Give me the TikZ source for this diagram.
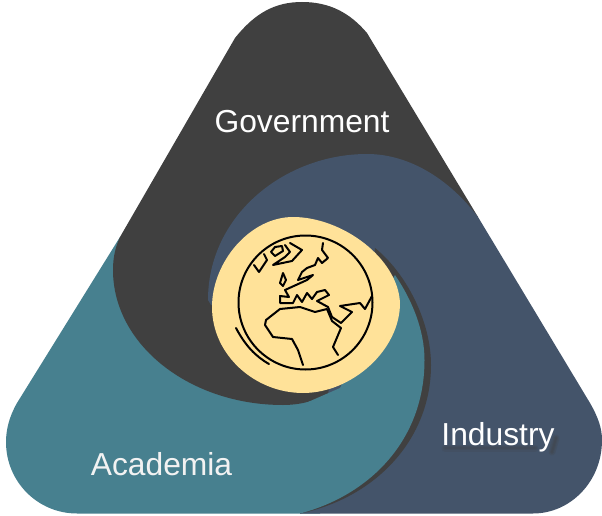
\documentclass[tikz,border=0pt]{standalone}
\usepackage{fontspec}
\setmainfont{Liberation Sans}
\definecolor{govgray}{HTML}{404040}
\definecolor{indblue}{HTML}{44546A}
\definecolor{acateal}{HTML}{47808F}
\definecolor{globeyellow}{HTML}{FFE299}
\tikzset{
	sector label/.style={font=\fontsize{31.8}{36}\selectfont, anchor=base, text=white, inner sep=0pt},
	globe line/.style={draw=black, line width=2pt, line join=round, line cap=round},
}
\begin{document}
\begin{tikzpicture}[x=1pt, y=-1pt]
	\useasboundingbox (0,0) rectangle (602,516);
	% Paths, swirls and globe:
	\fill[acateal] (120,237) -- (17,403) .. controls (9,417) and (6,430) .. (6,442) .. controls (6,482) and (38,513.5) .. (77,513.5) -- (320,513.5) -- (340,380) -- (300,250) -- cycle;
	\fill[govgray] (120,237) -- (235,38) .. controls (255,13) and (275,2) .. (302,2) .. controls (330,2) and (350,13) .. (367,33) -- (478,217) -- (345,385) .. controls (325,398) and (305,405) .. (283,405) .. controls (190,405) and (113,345) .. (113,270) .. controls (113,258) and (115,248) .. (120,237) -- cycle;
	\fill[indblue] (208,300) .. controls (208,215) and (285,154) .. (367,154) .. controls (410,154) and (450,180) .. (478,217) -- (590,403) .. controls (598,417) and (602,428) .. (602,440) .. controls (602,482) and (570,513.5) .. (533,513.5) -- (300,513.5) -- (330,385) -- (270,310) -- (211,305) -- cycle;
	\fill[govgray] (375,248) .. controls (405,272) and (431,320) .. (431,365) .. controls (431,440) and (375,498) .. (300,513.5) -- (340,388) -- (370,300) -- cycle;
	\fill[acateal] (395,275) .. controls (412,300) and (424.5,330) .. (424.5,360) .. controls (424.5,440) and (370,495) .. (300,513.5) -- (300,405.5) -- (340,388) -- (380,300) -- cycle;
	\fill[globeyellow] (212,307) .. controls (212,262) and (250,217) .. (293,217) .. controls (342,217) and (398,258) .. (400,303) .. controls (400,350) and (352,393) .. (303,393) .. controls (255,393) and (212,355) .. (212,307) -- cycle;
	% Globe:
	\draw[globe line] (305.5,302.5) circle (67);
	\draw[globe line] (254,265) -- (259,272) -- (267,260) -- (264,254);
	\draw[globe line] (271,252) -- (275,256) -- (283,251) -- (282,246) -- (275,247) -- cycle;
	\draw[globe line] (290,243) -- (302,250) -- (292,261) -- (273,265) -- (285,257) -- (290,252) -- (285,245);
	\draw[globe line] (283,273) -- (286,280) -- (283,286) -- (280,283) -- cycle;
	\draw[globe line] (323,243) -- (322,250) -- (328,258) -- (322,263) -- (318,258) -- (315,265) -- (307,268) -- (302,272) -- (298,280) -- (313,275) -- (307,280) -- (285,290) -- (289,297) -- (280,296) -- (280,303) -- (293,303) -- (297,295) -- (302,302) -- (307,293) -- (312,299) -- (317,292) -- (325,290) -- (329,295) -- (317,301) -- (328,307) -- (332,317) -- (341,323) -- (352,312) -- (340,306) -- (360,303) -- (365,309) -- (372,296);
	\draw[globe line] (303,365) -- (298,350) -- (292,339) -- (273,337) -- (265,325) -- (266,320) -- (280,309) -- (300,307) -- (315,312) -- (327,309) -- (332,321) -- (341,328) -- (333,347) -- (338,355);
	\draw[globe line] (236,328) .. controls (245,345) and (255,356) .. (269,364);
	% Soft shadow under Industry:
	\foreach \w in {2,4,7} {
		\draw[govgray, line width=\w pt, line cap=round, opacity=0.16] (445,448) -- (535,448);
		\draw[govgray, line width=\w pt, line cap=round, opacity=0.2] (556,438) -- (552,452);
	}
	% Labels:
	\node[sector label] (government) at (302,132) {Government};
	\node[sector label] (industry) at (498,445) {Industry};
	\node[sector label, text=white!95!black] (academia) at (161.5,475) {Academia};
\end{tikzpicture}
\end{document}
